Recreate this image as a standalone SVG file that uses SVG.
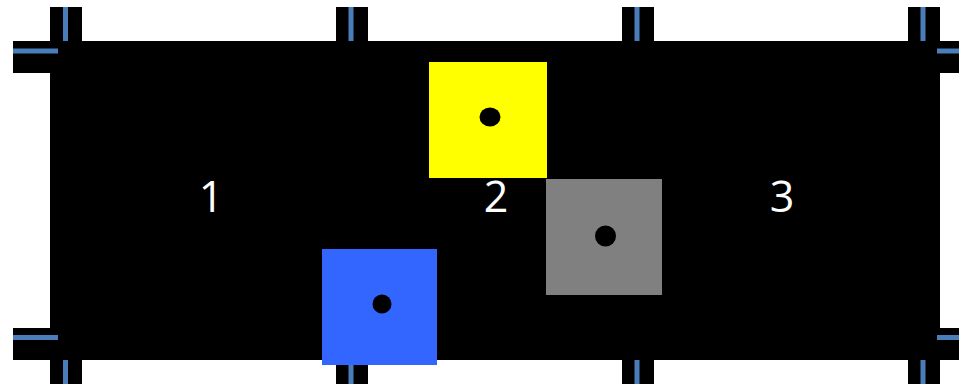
<svg xmlns="http://www.w3.org/2000/svg" width="959" height="384" viewBox="0 0 959 384">
  <style>
    .blk { fill: #000000; }
    .rail { stroke: #4A7EBB; stroke-width: 5; fill: none; }
    .lbl { font-family: "Open Sans", "Noto Sans", sans-serif; font-size: 43px; fill: #FFFFFF; text-anchor: middle; }
    .dot { fill: #000000; }
  </style>
  <rect width="959" height="384" fill="#FFFFFF"/>
  <g id="board">
    <rect class="blk" x="50" y="41" width="890" height="319"/>
    <rect class="blk" x="13" y="41" width="37" height="32"/>
    <rect class="blk" x="13" y="328" width="37" height="32"/>
    <rect class="blk" x="940" y="41" width="19" height="32"/>
    <rect class="blk" x="940" y="328" width="19" height="32"/>
    <rect class="blk" x="50" y="7" width="32" height="34"/>
    <rect class="blk" x="336" y="7" width="32" height="34"/>
    <rect class="blk" x="622" y="7" width="32" height="34"/>
    <rect class="blk" x="908" y="7" width="32" height="34"/>
    <rect class="blk" x="50" y="360" width="32" height="24"/>
    <rect class="blk" x="336" y="360" width="32" height="24"/>
    <rect class="blk" x="622" y="360" width="32" height="24"/>
    <rect class="blk" x="908" y="360" width="32" height="24"/>
  </g>
  <g id="connectors">
    <line class="rail" x1="13" y1="51" x2="58" y2="51"/>
    <line class="rail" x1="13" y1="337.5" x2="58" y2="337.5"/>
    <line class="rail" x1="937" y1="51" x2="959" y2="51"/>
    <line class="rail" x1="937" y1="337.5" x2="959" y2="337.5"/>
    <line class="rail" x1="65.5" y1="7" x2="65.5" y2="41"/>
    <line class="rail" x1="351" y1="7" x2="351" y2="41"/>
    <line class="rail" x1="637" y1="7" x2="637" y2="41"/>
    <line class="rail" x1="923" y1="7" x2="923" y2="41"/>
    <line class="rail" x1="65.5" y1="360" x2="65.5" y2="384"/>
    <line class="rail" x1="351" y1="360" x2="351" y2="384"/>
    <line class="rail" x1="637" y1="360" x2="637" y2="384"/>
    <line class="rail" x1="923" y1="360" x2="923" y2="384"/>
  </g>
  <g id="label-1"><text class="lbl" x="211" y="212">1</text></g>
  <g id="label-2"><text class="lbl" x="496" y="212">2</text></g>
  <g id="label-3"><text class="lbl" x="782" y="212">3</text></g>
  <g id="yellow">
    <rect x="429" y="62" width="118" height="116" fill="#FFFF00"/>
    <ellipse class="dot" cx="490" cy="117" rx="10.5" ry="9.5"/>
  </g>
  <g id="gray">
    <rect x="546" y="179" width="116" height="116" fill="#808080"/>
    <ellipse class="dot" cx="605.5" cy="236" rx="10.5" ry="10.5"/>
  </g>
  <g id="blue">
    <rect x="322" y="249" width="115" height="116" fill="#3366FF"/>
    <circle class="dot" cx="382" cy="304" r="9.5"/>
  </g>
</svg>
